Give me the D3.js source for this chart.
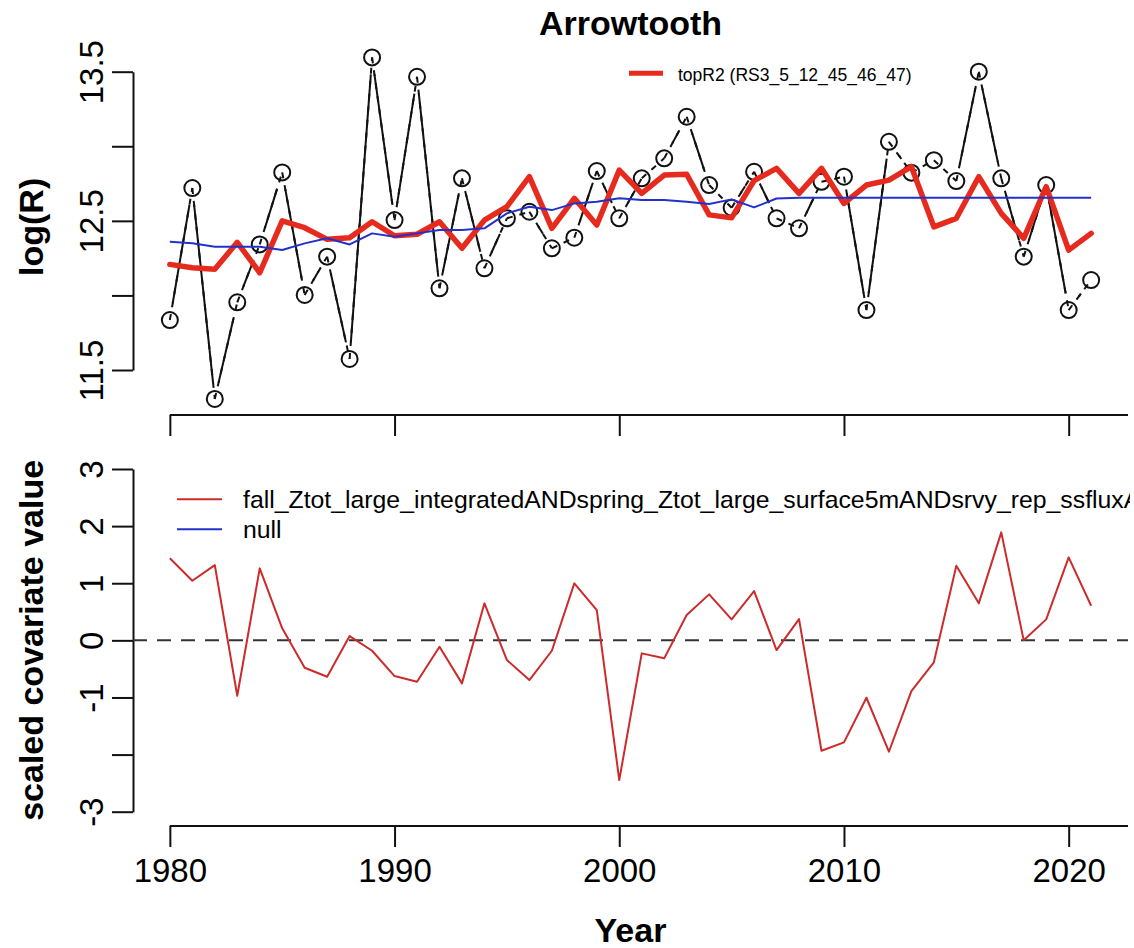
<!DOCTYPE html>
<html>
<head>
<meta charset="utf-8">
<script src="https://cdn.jsdelivr.net/npm/d3@7"></script>
<style>
  html, body { margin: 0; padding: 0; background: #fff; }
  svg { display: block; }
  text { font-family: "Liberation Sans", Arial, Helvetica, sans-serif; fill: #000; }
</style>
</head>
<body>
<svg id="chart" width="1134" height="948"></svg>
<script>
// ---- data ----
const years = [1980, 1981, 1982, 1983, 1984, 1985, 1986, 1987, 1988, 1989,
               1990, 1991, 1992, 1993, 1994, 1995, 1996, 1997, 1998, 1999,
               2000, 2001, 2002, 2003, 2004, 2005, 2006, 2007, 2008, 2009,
               2010, 2011, 2012, 2013, 2014, 2015, 2016, 2017, 2018, 2019,
               2020, 2021];

// observed log recruitment
const observedLogR = [11.835, 12.72, 11.306, 11.954, 12.342, 12.825, 12.003, 12.26, 11.574, 13.596,
                      12.505, 13.466, 12.048, 12.785, 12.182, 12.517, 12.561, 12.316, 12.387, 12.834,
                      12.517, 12.785, 12.919, 13.198, 12.74, 12.588, 12.829, 12.517, 12.45, 12.762,
                      12.796, 11.902, 13.03, 12.823, 12.907, 12.767, 13.5, 12.785, 12.26, 12.74,
                      11.902, 12.103];

// best-fit covariate model (topR2)
const topR2Fit = [12.208, 12.186, 12.175, 12.356, 12.152, 12.5, 12.454, 12.376, 12.387, 12.494,
                  12.40, 12.41, 12.494, 12.316, 12.505, 12.595, 12.796, 12.45, 12.651, 12.472,
                  12.84, 12.684, 12.807, 12.812, 12.54, 12.52, 12.77, 12.852, 12.684, 12.852,
                  12.617, 12.74, 12.773, 12.863, 12.46, 12.517, 12.796, 12.55, 12.383, 12.729,
                  12.304, 12.416];

// null model fit
const nullFit = [12.36, 12.35, 12.327, 12.327, 12.327, 12.304, 12.349, 12.383, 12.342, 12.416,
                 12.394, 12.416, 12.438, 12.438, 12.45, 12.55, 12.595, 12.572, 12.617, 12.628,
                 12.651, 12.639, 12.639, 12.628, 12.613, 12.644, 12.59, 12.65, 12.655, 12.655,
                 12.655, 12.655, 12.655, 12.655, 12.655, 12.655, 12.655, 12.655, 12.655, 12.655,
                 12.655, 12.655];

// scaled covariate series
const covariateScaled = [1.436, 1.044, 1.318, -0.97, 1.26, 0.21, -0.48, -0.637, 0.075, -0.182,
                         -0.625, -0.725, -0.112, -0.753, 0.648, -0.345, -0.695, -0.182, 0.998, 0.53,
                         -2.446, -0.228, -0.315, 0.443, 0.805, 0.367, 0.863, -0.17, 0.373, -1.933,
                         -1.786, -1.005, -1.95, -0.888, -0.385, 1.306, 0.648, 1.89, 0.0, 0.367,
                         1.453, 0.606];

// ticks and labels
const xTicks = [1980, 1990, 2000, 2010, 2020];
const topYTicks = [11.5, 12, 12.5, 13, 13.5];
const topYLabels = ["11.5", "", "12.5", "", "13.5"];
const covYTicks = [-3, -2, -1, 0, 1, 2, 3];
const covYLabels = ["-3", "", "-1", "0", "1", "2", "3"];

const titleText = "Arrowtooth";
const topLegendLabel = "topR2 (RS3_5_12_45_46_47)";
const covLegendLabels = ["fall_Ztot_large_integratedANDspring_Ztot_large_surface5mANDsrvy_rep_ssfluxANDsrvy_rep_ssflux", "null"];

// ---- layout ----
const RED = "#e62b1e";
const BLUE = "#2230cc";
const COVRED = "#cc2b2b";
const plotLeft = 133, plotRight = 1128;

const svg = d3.select("#chart");
svg.append("rect").attr("width", 1134).attr("height", 948).attr("fill", "#fff");

const pad = (years[years.length - 1] - years[0]) * 0.04;
const x = d3.scaleLinear()
  .domain([years[0] - pad, years[years.length - 1] + pad])
  .range([plotLeft, plotRight]);
const yTop = d3.scaleLinear().domain([11.5, 13.5]).range([370, 71.7]);
const yCov = d3.scaleLinear().domain([-3, 3]).range([811.7, 469]);

const topAxisY = 415, botAxisY = 826;

// legend text is clipped to the plotting region
svg.append("clipPath").attr("id", "plotclip")
  .append("rect").attr("x", plotLeft).attr("y", 0).attr("width", plotRight + 2 - plotLeft).attr("height", 948);

function styleAxis(g) {
  g.attr("font-family", null).attr("font-size", null);
  g.selectAll("path, line").attr("stroke", "#111").attr("stroke-width", 2);
}

// y axes with rotated labels
function yAxis(scale, ticks, labels) {
  const g = svg.append("g").attr("transform", `translate(${plotLeft},0)`)
    .call(d3.axisLeft(scale).tickValues(ticks).tickFormat((d, i) => labels[i])
      .tickSize(21).tickSizeOuter(0));
  styleAxis(g);
  g.selectAll(".tick text")
    .attr("x", 0).attr("dy", null)
    .attr("text-anchor", "middle")
    .attr("font-size", 33)
    .attr("transform", "translate(-30,0) rotate(-90)");
  return g;
}
yAxis(yTop, topYTicks, topYLabels);
yAxis(yCov, covYTicks, covYLabels);

// x axes: line runs from the first tick to the right edge of the plot
function xAxis(yPos, withLabels) {
  const g = svg.append("g").attr("transform", `translate(0,${yPos})`)
    .call(d3.axisBottom(x).tickValues(xTicks)
      .tickFormat(withLabels ? d3.format("d") : () => "")
      .tickSize(21).tickSizeOuter(0));
  g.select(".domain").remove();
  g.append("line").attr("class", "domain")
    .attr("x1", x(xTicks[0])).attr("x2", plotRight).attr("y1", 0).attr("y2", 0);
  styleAxis(g);
  g.selectAll(".tick text").attr("y", 56).attr("dy", null).attr("font-size", 33);
  return g;
}
xAxis(topAxisY, false);
xAxis(botAxisY, true);

// ---- top panel ----
const pts = years.map((yr, i) => [x(yr), yTop(observedLogR[i])]);
const obs = svg.append("g");
// dashed connector through the points
for (let i = 0; i < pts.length - 1; i++) {
  obs.append("line")
    .attr("x1", pts[i][0]).attr("y1", pts[i][1])
    .attr("x2", pts[i + 1][0]).attr("y2", pts[i + 1][1])
    .attr("stroke", "#111").attr("stroke-width", 2)
    .attr("stroke-dasharray", "6,7");
}
// solid connectors with a gap around each point
const gap = 17;
for (let i = 0; i < pts.length - 1; i++) {
  const [x1, y1] = pts[i], [x2, y2] = pts[i + 1];
  const d = Math.hypot(x2 - x1, y2 - y1);
  if (d <= 2 * gap) continue;
  const ux = (x2 - x1) / d, uy = (y2 - y1) / d;
  obs.append("line")
    .attr("x1", x1 + ux * gap).attr("y1", y1 + uy * gap)
    .attr("x2", x2 - ux * gap).attr("y2", y2 - uy * gap)
    .attr("stroke", "#111").attr("stroke-width", 2);
}
obs.selectAll("circle").data(years).join("circle")
  .attr("cx", d => x(d)).attr("cy", (d, i) => yTop(observedLogR[i]))
  .attr("r", 8).attr("fill", "none").attr("stroke", "#111").attr("stroke-width", 2);

const lineTop = (vals) => d3.line().x((d, i) => x(years[i])).y(d => yTop(d))(vals);
svg.append("path").attr("d", lineTop(topR2Fit))
  .attr("fill", "none").attr("stroke", RED).attr("stroke-width", 5.5)
  .attr("stroke-linejoin", "round").attr("stroke-linecap", "round");
svg.append("path").attr("d", lineTop(nullFit))
  .attr("fill", "none").attr("stroke", BLUE).attr("stroke-width", 2)
  .attr("stroke-linejoin", "round");

// top legend
svg.append("line").attr("x1", 629).attr("x2", 663).attr("y1", 73.3).attr("y2", 73.3)
  .attr("stroke", RED).attr("stroke-width", 5);
svg.append("text").attr("x", 678).attr("y", 81).attr("font-size", 17.5).text(topLegendLabel);

// title and y label
svg.append("text").attr("x", (plotLeft + plotRight) / 2).attr("y", 35)
  .attr("text-anchor", "middle").attr("font-size", 34).attr("font-weight", "bold").text(titleText);
svg.append("text").attr("transform", `translate(43,${(yTop(11.5) + yTop(13.5)) / 2 + 6}) rotate(-90)`)
  .attr("text-anchor", "middle").attr("font-size", 34).attr("font-weight", "bold").text("log(R)");

// ---- bottom panel ----
svg.append("line").attr("x1", plotLeft).attr("x2", plotRight)
  .attr("y1", yCov(0)).attr("y2", yCov(0))
  .attr("stroke", "#333").attr("stroke-width", 2).attr("stroke-dasharray", "14,10");
svg.append("path")
  .attr("d", d3.line().x((d, i) => x(years[i])).y(d => yCov(d))(covariateScaled))
  .attr("fill", "none").attr("stroke", COVRED).attr("stroke-width", 2)
  .attr("stroke-linejoin", "round");

// bottom legend
const leg = svg.append("g").attr("clip-path", "url(#plotclip)");
const legColors = [COVRED, BLUE];
covLegendLabels.forEach((lab, i) => {
  const ly = 499.3 + i * 30;
  leg.append("line").attr("x1", 177).attr("x2", 222).attr("y1", ly).attr("y2", ly)
    .attr("stroke", legColors[i]).attr("stroke-width", 2);
  leg.append("text").attr("x", 243).attr("y", ly + 8.8).attr("font-size", 24.8).text(lab);
});

svg.append("text").attr("transform", `translate(43,${(yCov(-3) + yCov(3)) / 2}) rotate(-90)`)
  .attr("text-anchor", "middle").attr("font-size", 34).attr("font-weight", "bold").text("scaled covariate value");
svg.append("text").attr("x", (plotLeft + plotRight) / 2).attr("y", 942)
  .attr("text-anchor", "middle").attr("font-size", 34).attr("font-weight", "bold").text("Year");
</script>
</body>
</html>
